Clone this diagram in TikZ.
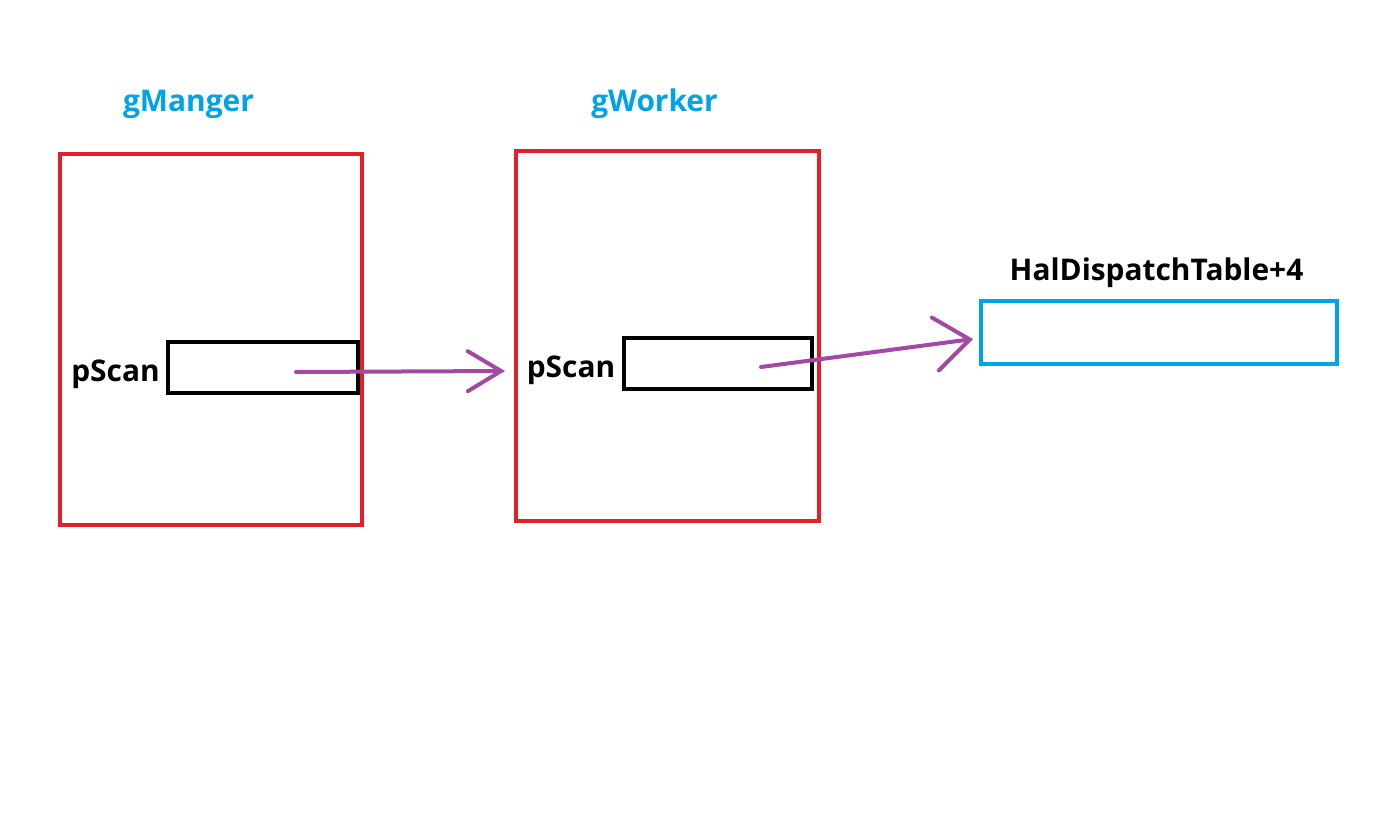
\documentclass[tikz,border=0pt]{standalone}
\usepackage{fontspec}
\setmainfont{Open Sans}
\usetikzlibrary{arrows.meta}
\definecolor{pred}{HTML}{E21F2A}
\definecolor{pblue}{HTML}{00A2E8}
\definecolor{ppurple}{HTML}{A349A4}
\begin{document}
\begin{tikzpicture}[x=0.75pt,y=-0.75pt,
  outerbox/.style={draw=pred,line width=3pt},
  slotbox/.style={draw=black,line width=2.6pt},
  targetbox/.style={draw=pblue,line width=3pt},
  title/.style={font=\bfseries\fontsize{22.4}{26}\selectfont,text=pblue,inner sep=0pt},
  fieldlabel/.style={font=\bfseries\fontsize{22.4}{26}\selectfont,text=black,inner sep=0pt},
  ptr/.style={draw=ppurple,line width=3pt,line cap=round}
]
\useasboundingbox (0,0) rectangle (1394,817);
% outer structures
\draw[outerbox] (60,154) rectangle (362,525);
\draw[outerbox] (516,151) rectangle (819,521);
% titles
\node[title] (t1) at (188.5,104) {gManger};
\node[title] (t2) at (654.5,104) {gWorker};
\node[fieldlabel] (t3) at (1156.5,273) {HalDispatchTable+4};
% slots
\node[slotbox,minimum width=190*0.75pt,minimum height=51*0.75pt,inner sep=0pt] (s1) at (263,367.5) {};
\node[slotbox,minimum width=188*0.75pt,minimum height=51*0.75pt,inner sep=0pt] (s2) at (718,363.5) {};
\node[targetbox,minimum width=356*0.75pt,minimum height=63*0.75pt,inner sep=0pt] (h) at (1159,332.5) {};
% labels
\node[fieldlabel] (l1) at (115.5,374) {pScan};
\node[fieldlabel] (l2) at (571,370) {pScan};
% pointers
\coordinate (a1s) at (296,372);
\coordinate (a1e) at (505,371);
\coordinate (a2s) at (761,367);
\coordinate (a2e) at (973,339);
\draw[ptr,-{Straight Barb[length=25pt,width=30pt,line cap=round]}] (a1s) -- (a1e);
\draw[ptr,-{Straight Barb[length=26pt,width=40pt,line cap=round]}] (a2s) -- (a2e);
\end{tikzpicture}
\end{document}
